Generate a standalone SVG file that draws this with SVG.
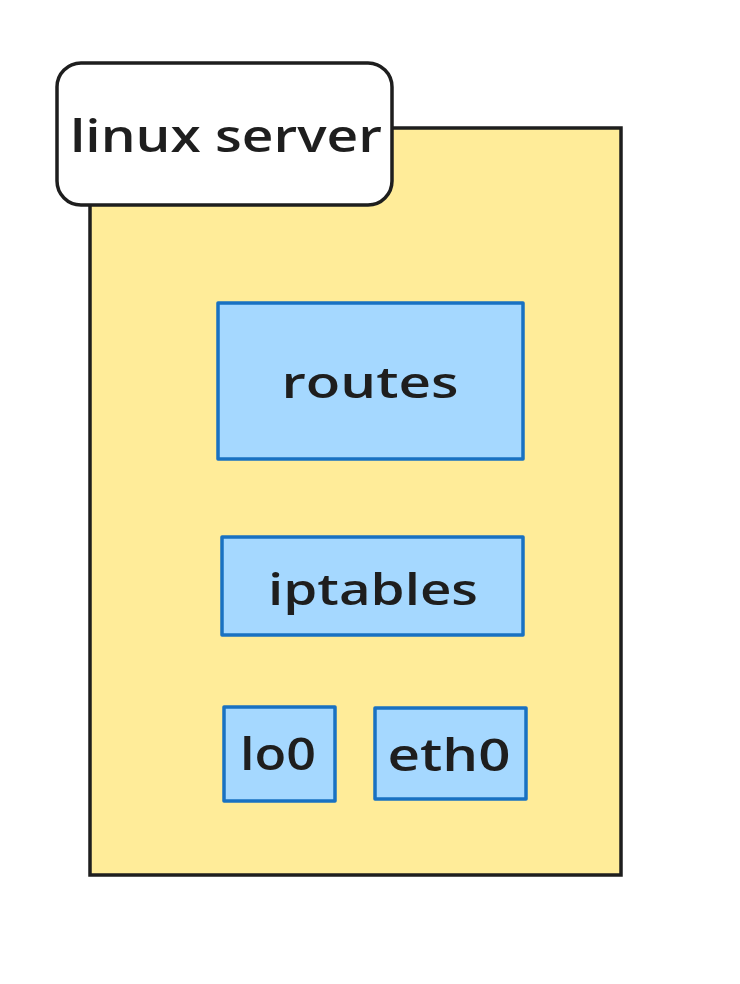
<svg xmlns="http://www.w3.org/2000/svg" width="740" height="984" viewBox="0 0 740 984">
<style>
.t{font-family:"Open Sans","Liberation Sans",sans-serif;font-weight:600;fill:#1e1e1e;text-anchor:middle}
.blue{fill:#a5d8ff;stroke:#1971c2;stroke-width:3.5;stroke-linejoin:round}
</style>
<rect width="740" height="984" fill="#ffffff"/>
<g id="server">
<rect x="90" y="128" width="531" height="747" fill="#ffec99" stroke="#1e1e1e" stroke-width="3.5"/>
</g>
<g id="label">
<rect x="57" y="63" width="335" height="142" rx="24" fill="#ffffff" stroke="#1e1e1e" stroke-width="3.5"/>
<text class="t" x="226" y="152" font-size="46" textLength="312" lengthAdjust="spacingAndGlyphs">linux server</text>
</g>
<g id="routes">
<rect class="blue" x="218" y="303" width="305" height="156"/>
<text class="t" x="370" y="398" font-size="44" textLength="177" lengthAdjust="spacingAndGlyphs">routes</text>
</g>
<g id="iptables">
<rect class="blue" x="222" y="537" width="301" height="98"/>
<text class="t" x="373" y="605" font-size="44" textLength="210" lengthAdjust="spacingAndGlyphs">iptables</text>
</g>
<g id="lo0">
<rect class="blue" x="224" y="707" width="111" height="94"/>
<text class="t" x="278" y="770" font-size="46" textLength="76" lengthAdjust="spacingAndGlyphs">lo0</text>
</g>
<g id="eth0">
<rect class="blue" x="375" y="708" width="151" height="91"/>
<text class="t" x="449" y="771" font-size="46" textLength="123" lengthAdjust="spacingAndGlyphs">eth0</text>
</g>
<g id="connectors"></g>
</svg>
